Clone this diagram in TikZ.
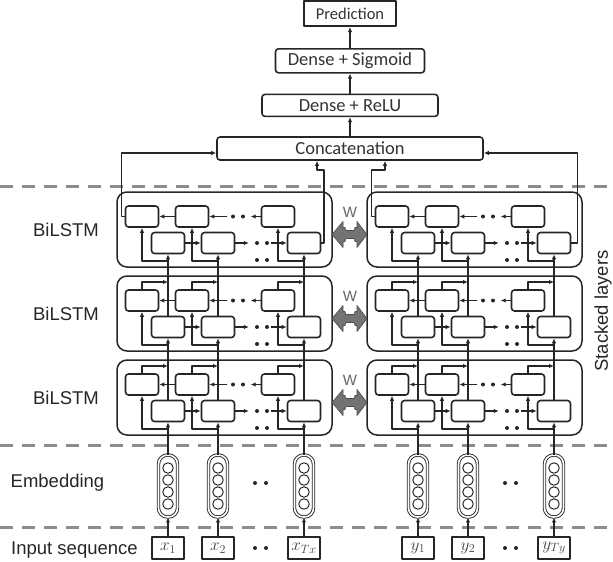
\documentclass[tikz,border=0pt]{standalone}
\usepackage{fontspec}
\setmainfont{Liberation Sans}
\newfontfamily\calibri{Carlito}
\usetikzlibrary{positioning,arrows.meta}

\begin{document}
\begin{tikzpicture}[
        x=1pt, y=-1pt,
        line join=round,
        cell/.style={
            draw=black!85,
            line width=1.6pt,
            rounded corners=3pt,
            fill=white,
            minimum width=33pt,
            minimum height=21pt,
            inner sep=0pt
        },
        lstm/.style={
            draw=black!85,
            line width=1.5pt,
            rounded corners=10pt,
            minimum width=215pt,
            minimum height=75pt,
            inner sep=0pt
        },
        topbox/.style={
            draw=black!85,
            line width=1.6pt,
            rounded corners=3pt,
            inner sep=0pt,
            text=black!80,
            font=\calibri\fontsize{18.5}{20}\selectfont
        },
        emb/.style={
            draw=black!85,
            double,
            double distance=1.6pt,
            line width=0.9pt,
            rounded corners=9pt,
            minimum width=19pt,
            minimum height=62pt,
            inner sep=0pt
        },
        unit/.style={draw=black!85, line width=1pt, circle, minimum size=10.5pt, inner sep=0pt},
        inbox/.style={
            draw=black!85,
            line width=1.4pt,
            minimum width=32pt,
            minimum height=22pt,
            inner sep=0pt,
            text=black!75,
            font=\fontsize{17}{18}\selectfont
        },
        lbl/.style={inner sep=0pt, text=black!85, font=\fontsize{18.5}{20}\selectfont},
        divider/.style={draw=black!45, line width=3pt, dash pattern=on 13pt off 9pt},
        arrow/.style={-{Latex[length=5pt,width=4.5pt]}, line width=1.4pt, draw=black!85},
        dotmark/.style={circle, fill=black!85, inner sep=0pt, minimum size=4pt},
        share/.style={fill=black!55, draw=black!70, line width=0.6pt}
    ]

    \useasboundingbox (0,0) rectangle (613,562);

    % Dashed separators
    \foreach \yy in {186,445,527}
        \draw[divider] (0,\yy) -- (613,\yy);

    % BiLSTM layers
    \foreach \s/\ox in {L/0,R/250}{
        \foreach \k/\t in {1/192,2/276,3/360}{
            \node[lstm] (\s\k) at (224.5+\ox,\t+37.5) {};
            \foreach \i/\xc in {1/168,2/218,3/304}{
                \node[cell] (\s\k-f\i) at (\xc+\ox,\t+51) {};
                \node[cell] (\s\k-b\i) at (\xc+\ox-26,\t+24.5) {};
                \draw[arrow] (\xc+\ox,\t+69) -| (\s\k-b\i);
                \ifnum\k>1
                    \draw[arrow] (\s\k-b\i) |- (\xc+\ox,\t+6);
                \fi
            }
            % forward row
            \draw[arrow] (\s\k-f1) -- (\s\k-f2);
            \draw[arrow] (\s\k-f2.east) -- ++(13.5,0);
            \draw[arrow] ([xshift=-16pt]\s\k-f3.west) -- (\s\k-f3.west);
            % backward row
            \draw[arrow] (\s\k-b2) -- (\s\k-b1);
            \draw[arrow] (\s\k-b3.west) -- ++(-10,0);
            \draw[arrow] ([xshift=18pt]\s\k-b2.east) -- (\s\k-b2.east);
            \foreach \dx/\dy in {257/51,267/51,233/24.5,243/24.5,257/68,267/68}
                \node[dotmark] at (\dx+\ox,\t+\dy) {};
        }
    }

    % Shared weights
    \foreach \k/\t in {1/192,2/276,3/360}{
        \pgfmathsetmacro{\c}{\t+42.5}
        \filldraw[share] (332,\c) -- (343,\c-13) -- (343,\c-7) -- (345,\c-7) -- (346,\c-4)
            -- (354,\c-4) -- (355,\c-7) -- (357,\c-7) -- (357,\c-13) -- (367,\c)
            -- (357,\c+13) -- (357,\c+7) -- (355,\c+7) -- (354,\c+4) -- (346,\c+4)
            -- (345,\c+7) -- (343,\c+7) -- (343,\c+13) -- cycle;
        \node[text=black!60, font=\fontsize{15}{15}\selectfont] (w\k) at (350,\t+20) {W};
        \node[lbl] (bilstm\k) at (66,\t+38) {BiLSTM};
    }

    % Embedding
    \foreach \s/\ox in {L/0,R/250}{
        \foreach \i/\xc in {1/168,2/218,3/304}{
            \node[emb] (\s-emb\i) at (\xc+\ox,486) {};
            \foreach \j in {-18,-6,6,18}
                \node[unit] at (\xc+\ox,486+\j) {};
        }
        \foreach \dx in {255,266}{
            \node[dotmark] at (\dx+\ox,483) {};
            \node[dotmark] at (\dx+\ox,548) {};
        }
    }

    % Input sequence
    \node[inbox] (L-in1) at (168,548) {$x_1$};
    \node[inbox] (L-in2) at (218,548) {$x_2$};
    \node[inbox] (L-in3) at (304,548) {$x_{Tx}$};
    \node[inbox] (R-in1) at (418,548) {$y_1$};
    \node[inbox] (R-in2) at (468,548) {$y_2$};
    \node[inbox] (R-in3) at (554,548) {$y_{Ty}$};

    \node[lbl] (embtxt) at (57.5,483) {Embedding};
    \node[lbl, anchor=west] (intxt) at (11,550) {Input sequence};
    \node[lbl, rotate=90] (stacktxt) at (603,311) {Stacked layers};

    % Output stack
    \node[topbox, minimum width=266pt, minimum height=23pt] (concat) at (350,148.5) {Concatenation};
    \node[topbox, minimum width=176pt, minimum height=22pt, above=19pt of concat] (relu) {Dense + ReLU};
    \node[topbox, minimum width=149pt, minimum height=24pt, above=20pt of relu] (sigm) {Dense + Sigmoid};
    \node[topbox, sharp corners, minimum width=92pt, minimum height=25pt,
        font=\calibri\fontsize{16.5}{18}\selectfont, above=21pt of sigm] (pred) {Prediction};

    \coordinate (jogL) at (317,170);
    \coordinate (jogR) at (385,170);

    % Arrows
    \foreach \s in {L,R}{
        \foreach \i in {1,2,3}{
            \draw[arrow] (\s-in\i) -- (\s-emb\i);
            \draw[arrow] (\s-emb\i) -- (\s3-f\i);
            \draw[arrow] (\s3-f\i) -- (\s2-f\i);
            \draw[arrow] (\s2-f\i) -- (\s1-f\i);
        }
    }
    \draw[arrow] (L1-b1.west) -- ++(-3,0) |- ([yshift=-4.5pt]concat.west);
    \draw[arrow] (L1-f3.east) -- ++(2.5,0) |- (jogL) -- (jogL |- concat.south);
    \draw[arrow] (R1-b1.west) -- ++(-3,0) |- (jogR) -- (jogR |- concat.south);
    \draw[arrow] (R1-f3.east) -- ++(6,0) |- ([yshift=-4.5pt]concat.east);
    \draw[arrow] (concat) -- (relu);
    \draw[arrow] (relu) -- (sigm);
    \draw[arrow] (sigm) -- (pred);

\end{tikzpicture}
\end{document}
